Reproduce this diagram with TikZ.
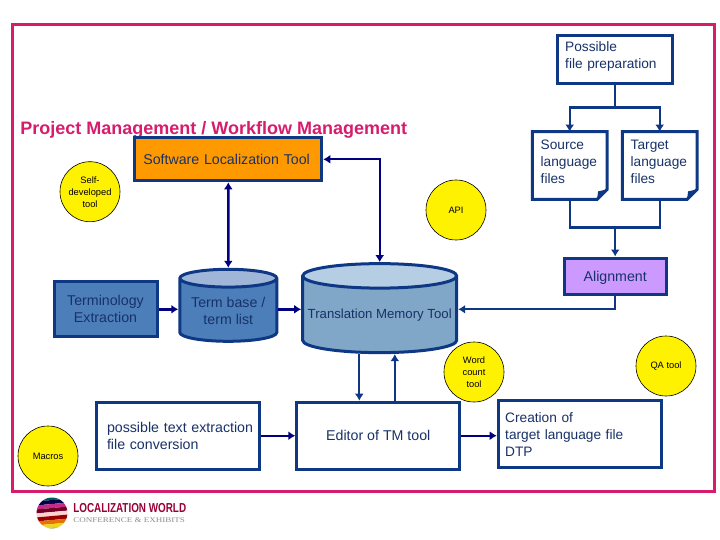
\documentclass[tikz,border=0pt]{standalone}
\usepackage{fontspec}
\setmainfont{Liberation Sans}
\newfontfamily\logoserif{Liberation Serif}
\usetikzlibrary{arrows.meta,shapes.geometric}

\definecolor{framepink}{RGB}{214,28,108}
\definecolor{boxblue}{RGB}{14,56,132}
\definecolor{arrownavy}{RGB}{0,0,128}
\definecolor{textnavy}{RGB}{24,50,104}
\definecolor{termblue}{RGB}{76,126,186}
\definecolor{termtop}{RGB}{160,182,216}
\definecolor{tmblue}{RGB}{128,166,200}
\definecolor{tmtop}{RGB}{182,206,228}
\definecolor{alignlilac}{RGB}{204,153,255}
\definecolor{slorange}{RGB}{255,153,0}

\tikzset{
  every picture/.style={line width=0.75pt},
  boxtext/.style={font=\fontsize{13.7}{17}\selectfont,text=textnavy},
  widetext/.style={font=\fontsize{14.2}{17}\selectfont},
  whitebox/.style={boxtext,draw=boxblue,line width=3pt,fill=white,rectangle,inner sep=0pt,align=left},
  toolcircle/.style={circle,draw=black,fill=yellow,line width=0.6pt,minimum size=60pt,inner sep=0pt,align=center,font=\fontsize{9.3}{12}\selectfont},
  dbase/.style={boxtext,cylinder,shape border rotate=90,draw=boxblue,line width=3pt,cylinder uses custom fill,inner sep=0pt,align=center},
  flowline/.style={draw=boxblue,line width=2.2pt},
  flowarrow/.style={flowline,-{Latex[length=7pt,width=9pt]}},
  navyarrow/.style={draw=arrownavy,line width=2.4pt,-{Latex[length=7pt,width=9pt]}},
  navyboth/.style={draw=arrownavy,line width=2.4pt,{Latex[length=7pt,width=9pt]}-{Latex[length=7pt,width=9pt]}},
}

\begin{document}
\begin{tikzpicture}[x=1pt,y=1pt,yscale=-1,xscale=1]
\useasboundingbox (0,0) rectangle (720,540);

%Outer frame
\draw [framepink,line width=3pt] (12.5,24.5) rectangle (714.5,491.5);

% Title
\node (title) [anchor=west,inner sep=0pt,text=framepink,font=\fontsize{18}{20}\selectfont\bfseries] at (20,129.5) {Project Management / Workflow Management};

%Top right boxes
\node (prep) [whitebox,minimum width=115pt,minimum height=48pt,text width=100pt,text depth=26pt] at (615.2,60) {Possible\\file preparation};
\node (source) [boxtext,minimum width=74pt,minimum height=67pt,text width=58pt,inner sep=0pt,align=left,text depth=41pt] at (569.7,165.5) {Source\\language\\files};
\node (target) [boxtext,minimum width=74pt,minimum height=67pt,text width=58pt,inner sep=0pt,align=left,text depth=41pt] at (659.7,165.5) {Target\\language\\files};
\node (alignbox) [whitebox,fill=alignlilac,align=center,widetext,text height=14pt,minimum width=102pt,minimum height=36pt] at (615.2,276) {Alignment};

%Document outlines, folded corner
\foreach \doc in {source,target}{
  \draw [boxblue,line width=3pt,line join=miter] (\doc.south west) -- (\doc.north west) -- (\doc.north east) -- ([yshift=-10pt]\doc.south east) -- ([xshift=-10pt]\doc.south east) -- cycle;
  \fill [boxblue] ([yshift=-10pt]\doc.south east) -- ([xshift=-10pt]\doc.south east) -- ([xshift=-9pt,yshift=-8pt]\doc.south east) -- cycle;
}

%Middle row
\node (slt) [whitebox,fill=slorange,widetext,text width=170pt,minimum width=187pt,minimum height=43pt] at (228.3,159.3) {Software Localization Tool};
\node (termex) [whitebox,fill=termblue,align=center,widetext,minimum width=103pt,minimum height=55pt] at (105.5,309.3) {Terminology\\Extraction};
\node (termdb) [dbase,cylinder body fill=termblue,cylinder end fill=termtop,widetext,minimum width=97pt,minimum height=72pt,aspect=0.24] at (228.3,310.5) {Term base /\\term list};
\node (tmdb) [dbase,cylinder body fill=tmblue,cylinder end fill=tmtop,minimum width=154pt,minimum height=89pt,aspect=0.17,font=\fontsize{13.2}{15}\selectfont] at (379.7,315) {Translation Memory Tool};

%Bottom row
\node (convert) [whitebox,widetext,minimum width=163pt,minimum height=67pt,text width=141pt] at (177.5,435.7) {\mbox{possible text extraction}\\file conversion};
\node (editor) [whitebox,align=center,widetext,minimum width=163pt,minimum height=67pt] at (378.3,435.7) {Editor of TM tool};
\node (creation) [whitebox,minimum width=163pt,minimum height=67pt,text width=149pt,text depth=31pt] at (579.7,433.5) {Creation of\\target language file\\DTP};

%Yellow tools
\node (selftool) [toolcircle] at (90,191.7) {Self-\\developed\\tool};
\node (apitool) [toolcircle] at (456,210) {API};
\node (wordtool) [toolcircle] at (474,372) {Word\\count\\tool};
\node (qatool) [toolcircle] at (666,366) {QA tool};
\node (macrotool) [toolcircle] at (48,456) {Macros};

%Junctions
\coordinate (prepjoin) at (615.2,107.5);
\coordinate (filesjoin) at (615.2,227.5);
\coordinate (tmdown) at ([xshift=-19pt]editor.north);
\coordinate (tmup) at ([xshift=16.5pt]editor.north);

%Connectors
\draw [flowline] (prep.south) -- (prepjoin);
\draw [flowarrow] (prepjoin) -| (source.north);
\draw [flowarrow] (prepjoin) -| (target.north);
\draw [flowline] (source.south) |- (filesjoin);
\draw [flowline] (target.south) |- (filesjoin);
\draw [flowarrow] (filesjoin) -- (alignbox.north);
\draw [flowarrow] (alignbox.south) |- (termex.east -| tmdb.east);
\draw [navyboth,line width=1.6pt] (slt.east) -| (tmdb.north);
\draw [navyboth] (slt.south) -- (termdb.north);
\draw [navyarrow] (termex.east) -- (termex.east -| termdb.west);
\draw [navyarrow] (termex.east -| termdb.east) -- (termex.east -| tmdb.west);
\draw [flowarrow] (tmdown |- tmdb.south) -- (tmdown);
\draw [flowarrow] (tmup) -- (tmup |- tmdb.south);
\draw [navyarrow] (convert.east) -- (editor.west);
\draw [navyarrow] (editor.east) -- (editor.east -| creation.west);

%Logo
\begin{scope}
  \clip (52,513) circle [radius=15.5];
  \foreach \stripe/\stripecol in {0/black!75!blue,1/teal!70!black,2/black!70!blue,3/magenta!80!black,4/purple!60!black,5/pink!70!white,6/red!60!black,7/orange!90!black,8/yellow!70!brown,9/olive!80!green}{
    \fill [\stripecol] (30,{494+\stripe*4}) -- (74,{490+\stripe*4}) -- (74,{494+\stripe*4}) -- (30,{498+\stripe*4}) -- cycle;
  }
\end{scope}
\node (logoname) [anchor=west,inner sep=0pt,text=purple!80!black,font=\fontsize{13}{14}\selectfont\bfseries,xscale=0.76] at (73,508) {LOCALIZATION WORLD};
\node (logosub) [anchor=west,inner sep=0pt,text=black!45,font=\fontsize{7.2}{8}\logoserif,xscale=1.25] at (73,520) {CONFERENCE \& EXHIBITS};

\end{tikzpicture}
\end{document}
